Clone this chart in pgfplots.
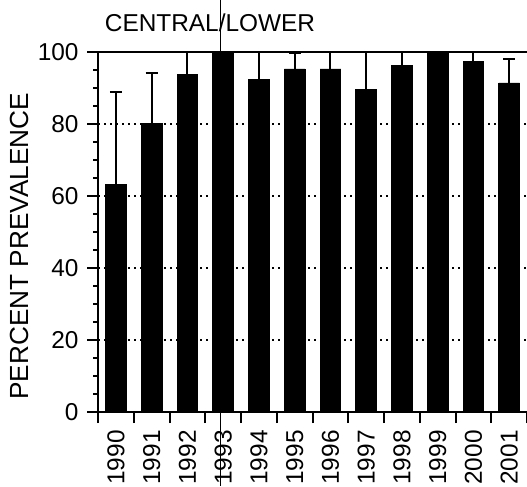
\documentclass[border=0pt]{standalone}
\usepackage{pgfplots}
\pgfplotsset{compat=1.18}
\usepackage{fontspec}
\setmainfont{Liberation Sans}
\begin{document}
\fontsize{12.2}{14}\selectfont
\begin{tikzpicture}
\begin{axis}[
  width=214.5pt, height=180pt, scale only axis,
  xmin=0, xmax=12, ymin=0, ymax=100,
  clip=false,
  axis x line*=bottom, axis y line*=left,
  axis line style={line width=1.1pt, -},
  ybar, bar width=0.58,
  xtick={0,...,12}, xticklabels={},
  extra x ticks={0.5,1.5,...,11.5},
  extra x tick labels={1990,1991,1992,1993,1994,1995,1996,1997,1998,1999,2000,2001},
  extra x tick style={major tick length=0pt, tick label style={yshift=-9pt, rotate=90, anchor=east, inner sep=0pt}},
  ytick={0,20,40,60,80,100}, minor y tick num=3,
  tick align=outside,
  major tick length=5.5pt, minor tick length=2.5pt,
  tick style={line width=1pt, black},
  ymajorgrids, grid style={black, line width=1pt, dash pattern=on 1pt off 2pt},
  /pgf/number format/assume math mode=true,
  ylabel={\fontsize{13.1}{15}\selectfont PERCENT PREVALENCE},
  ylabel style={at={(axis description cs:-0.16,0.46)}, anchor=south, inner sep=0pt},
  title={CENTRAL/LOWER},
  title style={at={(axis description cs:0.261,1)}, anchor=base, yshift=4pt, inner sep=0pt},
]
\addplot[fill=black, draw=black,
  error bars/.cd, y dir=plus, y explicit,
  error bar style={line width=1pt, black},
  error mark options={rotate=90, mark size=3pt, line width=1pt, black}]
coordinates {
 (0.5,63.1) +- (0,25.7)
 (1.5,80.2) +- (0,14.0)
 (2.5,93.8) +- (0,6.2)
 (3.5,100) +- (0,0)
 (4.5,92.4) +- (0,7.6)
 (5.5,95.3) +- (0,4.5)
 (6.5,95.3) +- (0,4.7)
 (7.5,89.6) +- (0,10.4)
 (8.5,96.3) +- (0,3.7)
 (9.5,100) +- (0,0)
 (10.5,97.4) +- (0,2.6)
 (11.5,91.4) +- (0,6.6)
};
\draw[line width=1.4pt] (axis cs:0,100) -- (axis cs:12,100);
\draw[line width=0.5pt] (axis cs:3.44,114.4) -- (axis cs:3.44,-20.6);
\end{axis}
\pgfresetboundingbox
\path[use as bounding box] ([shift={(-49pt,-37pt)}]current axis.south west) rectangle ([shift={(0pt,26pt)}]current axis.north east);
\end{tikzpicture}
\end{document}
